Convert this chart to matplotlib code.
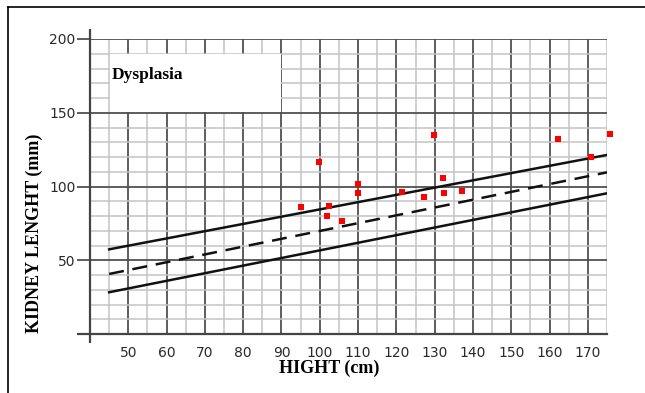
import matplotlib
matplotlib.use("Agg")
from matplotlib import pyplot as plt
from matplotlib.patches import Rectangle
from matplotlib.lines import Line2D
import numpy as np

# patient points (Dysplasia)
height_cm = [95.0, 99.8, 102.4, 101.9, 105.8, 109.9, 109.9, 121.6, 127.1,
             129.8, 132.2, 132.5, 137.1, 162.3, 170.9, 175.7]
kidney_mm = [85.9, 116.4, 86.8, 80.2, 76.6, 101.7, 95.4, 96.5, 92.7,
             134.9, 105.6, 95.4, 96.9, 132.4, 120.2, 135.4]

# reference lines (normal range)
ref_x = [45, 175]
ref_upper = [57.4, 121.4]
ref_mean = [40.7, 109.6]
ref_lower = [28.3, 95.4]

xticks = list(range(50, 171, 10))
yticks = [50, 100, 150, 200]

W, H = 645, 393
fig = plt.figure(figsize=(W/100, H/100), dpi=100)
ax = fig.add_axes([90/W, 1-334/H, 517/W, 295/H])
ax.set_xlim(40, 175)
ax.set_ylim(0, 200)

major_c = "#505050"
minor_c = "#c4c4c4"
ax.set_xticks(xticks)
ax.set_xticks(np.arange(40, 176, 5), minor=True)
ax.set_yticks(yticks)
ax.set_yticks(np.arange(0, 201, 10), minor=True)
ax.grid(which="minor", color=minor_c, lw=1.1)
ax.grid(which="major", color=major_c, lw=1.3)
ax.set_axisbelow(True)

ax.tick_params(axis="x", which="both", length=0, pad=8.5, labelsize=10, labelcolor="#2a2a2a")
ax.tick_params(axis="y", which="major", length=9.5, width=1.3, color=major_c,
               pad=1, labelsize=10, labelcolor="#2a2a2a")
ax.tick_params(axis="y", which="minor", length=0)

for s in ["top", "right"]:
    ax.spines[s].set_visible(False)
for s in ["left", "bottom"]:
    ax.spines[s].set_color("#444444")
    ax.spines[s].set_linewidth(1.6)
# axis lines run a bit past the grid
ax.plot([36.6, 40], [0, 0], color="#444444", lw=1.6, clip_on=False, solid_capstyle="butt")
ax.plot([40, 40], [-6, 0], color="#444444", lw=1.6, clip_on=False, solid_capstyle="butt")
ax.plot([40, 40], [200, 206.8], color="#444444", lw=1.6, clip_on=False, solid_capstyle="butt")

# white label box
ax.add_patch(Rectangle((45.2, 150.4), 44.6, 39.3, facecolor="white", edgecolor="none", zorder=1))
ax.text(45.6, 172.9, "Dysplasia", family="Liberation Serif", weight="bold", fontsize=12.5,
        va="baseline", ha="left", zorder=3)

ax.plot(ref_x, ref_upper, color="#111111", lw=1.8, zorder=3)
ax.plot(ref_x, ref_lower, color="#111111", lw=1.8, zorder=3)
ax.plot(ref_x, ref_mean, color="#111111", lw=1.8, dashes=(6, 3.5), zorder=3)

ax.plot(height_cm, kidney_mm, linestyle="none", marker="s", markersize=5,
        color="#ff0000", markeredgewidth=0, zorder=4, clip_on=False)

fig.text(329/W, 1-368/H, "HIGHT (cm)", family="Liberation Serif", weight="bold",
         fontsize=13, ha="center", va="center")
fig.text(34.5/W, 1-233.5/H, "KIDNEY LENGHT (mm)", family="Liberation Serif", weight="bold",
         fontsize=13, ha="center", va="center", rotation=90)

# page frame (top and left edges)
fig.add_artist(Line2D([8/W, 1], [1-7/H, 1-7/H], color="black", lw=1.2))
fig.add_artist(Line2D([8/W, 8/W], [0, 1-7/H], color="black", lw=1.2))

fig.savefig("out.png", dpi=100)
